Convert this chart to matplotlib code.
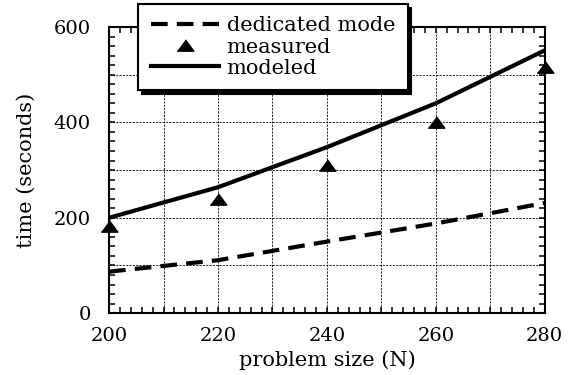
import matplotlib
matplotlib.use('Agg')
import matplotlib.pyplot as plt
import numpy as np

# Problem sizes and timings (seconds).
sizes = [200, 220, 240, 260, 280]
dedicated = [87, 111, 150, 188, 231]
measured = [182, 240, 310, 401, 517]
modeled = [200, 264, 348, 440, 551]

plt.rcParams['font.family'] = ['DejaVu Serif']
plt.rcParams['font.size'] = 13

fig = plt.figure(figsize=(5.71, 3.75), dpi=100)
ax = fig.add_axes([0.191, 0.165, 0.763, 0.763])

# Dashed reference grid every 10 in x and 100 in y.
for gx in np.arange(210, 280, 10):
    ax.axvline(gx, color='black', lw=0.6, ls=(0, (2.5, 1.5)), zorder=1)
for gy in np.arange(100, 600, 100):
    ax.axhline(gy, color='black', lw=0.6, ls=(0, (2.5, 1.5)), zorder=1)

# Flat triangle marker for the measured runs.
tri = [(-1, -0.68), (1, -0.68), (0, 0.68)]

ax.plot(sizes, dedicated, color='black', lw=3, dashes=(4, 2.2), label='dedicated mode', zorder=3)
ax.plot(sizes, measured, color='black', marker=tri, ms=12, ls='none',
        label='measured', zorder=4, clip_on=False)
ax.plot(sizes, modeled, color='black', lw=3, label='modeled', zorder=3)

ax.set_xlim(200, 280)
ax.set_ylim(0, 600)
ax.set_xticks(np.arange(200, 281, 20))
ax.set_xticks(np.arange(200, 281, 2), minor=True)
ax.set_yticks(np.arange(0, 601, 200))
ax.set_yticks(np.arange(0, 601, 20), minor=True)
ax.tick_params(which='both', direction='in', top=True, right=True, width=1.1, length=4.5)
ax.tick_params(which='major', labelsize=14)
ax.tick_params(axis='x', which='major', pad=10)
ax.tick_params(axis='y', which='major', pad=13)
for s in ax.spines.values():
    s.set_linewidth(1.5)

ax.set_xlabel('problem size (N)', fontsize=15, labelpad=4)
ax.set_ylabel('time (seconds)', fontsize=15, labelpad=13)

leg = ax.legend(loc='upper left', bbox_to_anchor=(138 / 571, 1 - 4 / 375),
                bbox_transform=fig.transFigure, fontsize=15, frameon=True,
                fancybox=False,
                shadow={'ox': 2.8, 'oy': -2.8, 'color': 'black', 'alpha': 1},
                handlelength=3.3, handletextpad=0.35, borderpad=0.6,
                labelspacing=0.1, borderaxespad=0)
leg.get_frame().set_edgecolor('black')
leg.get_frame().set_linewidth(1.5)
leg.set_zorder(10)

fig.savefig('out.png', dpi=100)
